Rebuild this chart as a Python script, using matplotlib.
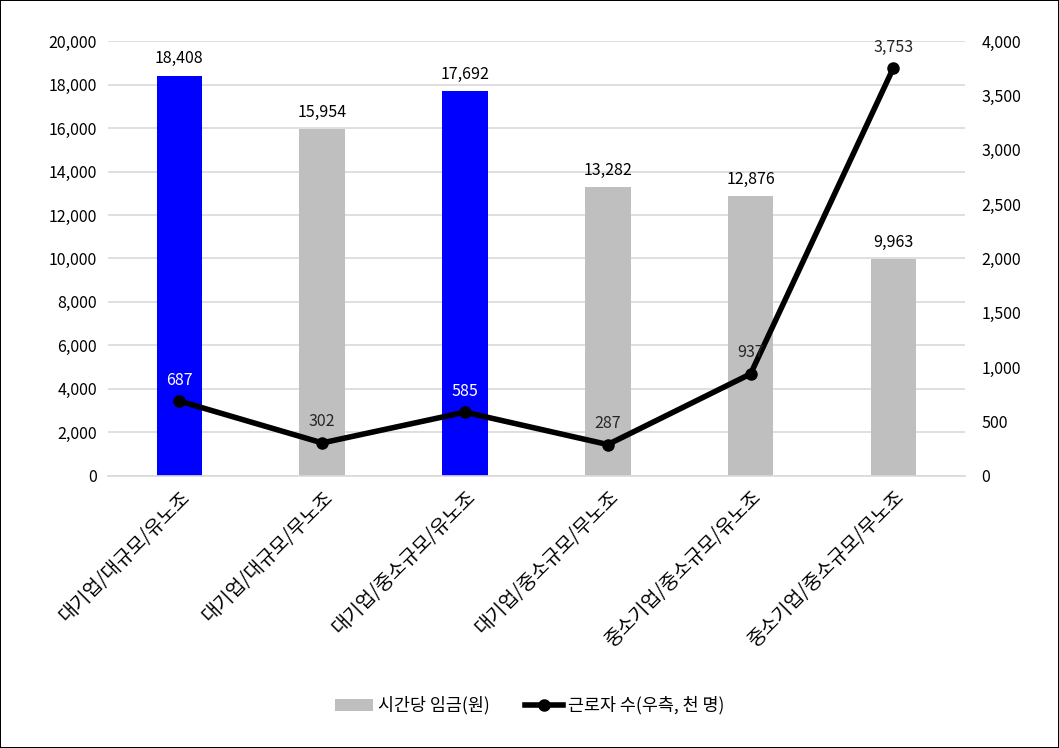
import matplotlib.pyplot as plt
import numpy as np
from matplotlib.ticker import FuncFormatter

plt.rcParams['font.family'] = ['Noto Sans CJK KR', 'DejaVu Sans']

categories = ['대기업/대규모/유노조', '대기업/대규모/무노조', '대기업/중소규모/유노조',
              '대기업/중소규모/무노조', '중소기업/중소규모/유노조', '중소기업/중소규모/무노조']
wage = [18408, 15954, 17692, 13282, 12876, 9963]
workers = [687, 302, 585, 287, 937, 3753]
bar_colors = ['#0000ff', '#bfbfbf', '#0000ff', '#bfbfbf', '#bfbfbf', '#bfbfbf']
label_colors = ['white', '#262626', 'white', '#262626', '#262626', '#262626']

fig = plt.figure(figsize=(10.59, 7.48), dpi=100)
fig.patch.set_edgecolor('black')
fig.patch.set_linewidth(1.2)
ax = fig.add_axes([0.102, 0.364, 0.809, 0.581])
ax2 = ax.twinx()

x = np.arange(len(categories))
ax.bar(x, wage, width=0.32, color=bar_colors, zorder=2)
ax.bar(0, 0, color='#bfbfbf', label='시간당 임금(원)')
for xi, v in zip(x, wage):
    ax.annotate(f'{v:,}', (xi, v), xytext=(0, 6), textcoords='offset points',
                ha='center', va='bottom', fontsize=11.5, color='black')

ax.set_ylim(0, 20000)
ax.set_yticks(np.arange(0, 20001, 2000))
ax.set_xlim(-0.5, 5.5)
ax.yaxis.set_major_formatter(FuncFormatter(lambda v, p: f'{int(v):,}'))
ax.grid(axis='y', color='#d9d9d9', linewidth=1.2, zorder=0)
ax.set_axisbelow(True)
for s in ['top', 'left', 'right']:
    ax.spines[s].set_visible(False)
ax.spines['bottom'].set_color('#d9d9d9')
ax.spines['bottom'].set_linewidth(1.2)
ax.tick_params(axis='both', length=0, labelsize=11.5, colors='black', pad=8)
ax.set_xticks(x)
ax.set_xticklabels(categories, rotation=45, ha='right', rotation_mode='anchor', fontsize=14)

ax2.plot(x, workers, color='black', linewidth=4, marker='o', markersize=8,
         label='근로자 수(우측, 천 명)', zorder=3)
for xi, v, c in zip(x, workers, label_colors):
    ax2.annotate(f'{v:,}', (xi, v), xytext=(0, 9), textcoords='offset points',
                 ha='center', va='bottom', fontsize=11.5, color=c)
ax2.set_ylim(0, 4000)
ax2.set_yticks(np.arange(0, 4001, 500))
ax2.yaxis.set_major_formatter(FuncFormatter(lambda v, p: f'{int(v):,}'))
for s in ['top', 'left', 'right', 'bottom']:
    ax2.spines[s].set_visible(False)
ax2.tick_params(axis='y', length=0, labelsize=11.5, colors='black', pad=12)

h1, l1 = ax.get_legend_handles_labels()
h2, l2 = ax2.get_legend_handles_labels()
fig.legend(h1 + h2, l1 + l2, loc='center', bbox_to_anchor=(0.5, 0.057), ncol=2,
           frameon=False, fontsize=12.5, handlelength=2.2, handletextpad=0.3,
           columnspacing=2.0)

fig.savefig('out.png', dpi=100, edgecolor=fig.get_edgecolor())
